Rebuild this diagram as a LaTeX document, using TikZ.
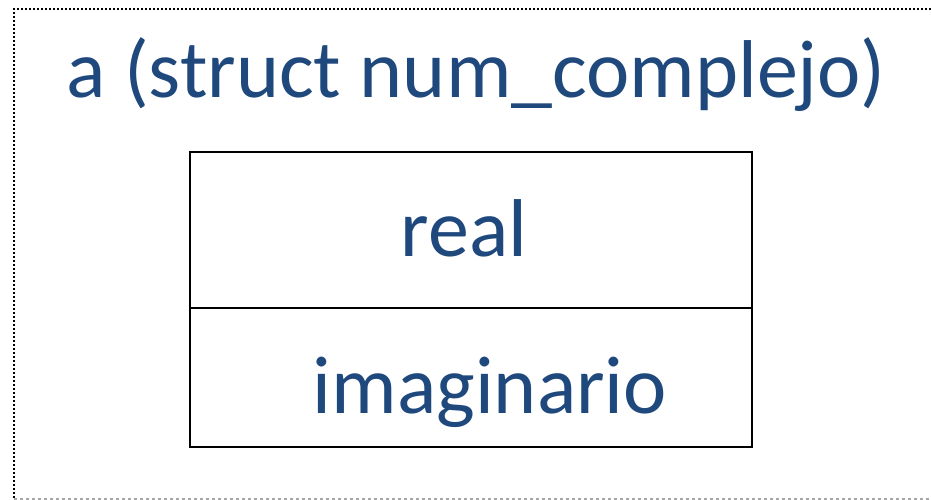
\documentclass[tikz,border=0pt]{standalone}
\usepackage{fontspec}
\setmainfont{Carlito}
\definecolor{titleblue}{HTML}{1F497D}
\begin{document}
\begin{tikzpicture}[x=1pt,y=-1pt,
  label/.style={text=titleblue,font=\fontsize{82}{98}\selectfont,anchor=base,inner sep=0pt},
  cell/.style={draw=black,line width=2.6pt}]
\useasboundingbox (0,0) rectangle (931,500);
% frame around the variable
\coordinate (ftl) at (14,9);
\coordinate (ftr) at (931,9);
\coordinate (fbl) at (14,499);
\coordinate (fbr) at (931,499);
\draw[black,line width=1.8pt,dash pattern=on 1.8pt off 2.2pt] (ftr) -- (ftl) -- (fbl);
\draw[gray!70,line width=1.2pt,dash pattern=on 3pt off 3pt] (fbl) -- (fbr);
% variable name
\node[label] (title) at (476,98) {a (struct num\_complejo)};
% fields of the struct
\coordinate (btl) at (190,152);
\coordinate (bbr) at (752,447);
\coordinate (dl) at (190,308);
\coordinate (dr) at (752,308);
\draw[cell] (btl) rectangle (bbr);
\draw[cell] (dl) -- (dr);
\node[label] (real) at (464,256) {real};
\node[label] (imag) at (490,413) {imaginario};
\end{tikzpicture}
\end{document}
